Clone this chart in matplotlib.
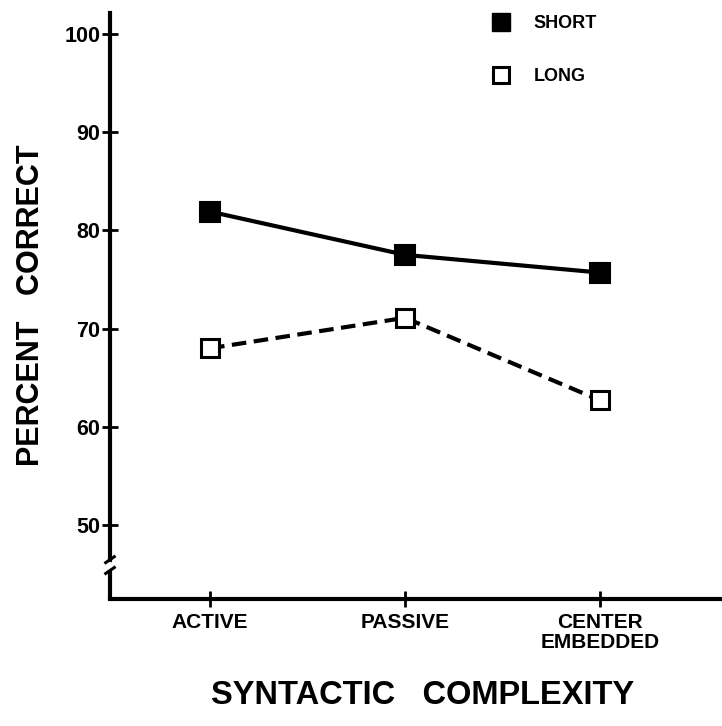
import matplotlib
matplotlib.use("Agg")
import matplotlib.pyplot as plt
from matplotlib.lines import Line2D

categories = ["ACTIVE", "PASSIVE", "CENTER\nEMBEDDED"]
short_vals = [81.9, 77.5, 75.7]
long_vals = [68.0, 71.1, 62.7]
yticks = [50, 60, 70, 80, 90, 100]

plt.rcParams["font.family"] = ["Liberation Sans", "DejaVu Sans"]
plt.rcParams["font.weight"] = "bold"

fig = plt.figure(figsize=(7.22, 7.26), dpi=100)
ax = fig.add_axes([110 / 722, 1 - 599 / 726, 612 / 722, 586 / 726])

x = list(range(len(categories)))
ax.plot(x, short_vals, "-", color="black", lw=3, marker="s", ms=14,
        mfc="black", mec="black", mew=1.5, label="SHORT")
ax.plot(x, long_vals, "--", color="black", lw=3, dashes=(3.5, 1.8),
        marker="s", ms=13, mfc="white", mec="black", mew=2.2, label="LONG")

ymin, ymax = 42.5, 102.1
ax.set_xlim(-0.513, 2.625)
ax.set_ylim(ymin, ymax)

ax.set_xticks(x)
ax.set_xticklabels(categories, fontsize=15, fontweight="bold", linespacing=1.1)
ax.set_yticks(yticks)
ax.set_yticklabels([str(v) for v in yticks], fontsize=15.5, fontweight="bold")
ax.tick_params(axis="both", direction="inout", length=12, width=2, color="black")
ax.tick_params(axis="y", pad=1)
ax.tick_params(axis="x", pad=4)

for s in ["top", "right"]:
    ax.spines[s].set_visible(False)
for s in ["left", "bottom"]:
    ax.spines[s].set_linewidth(3)

# axis break on the y axis
brk_lo, brk_hi = 45.4, 46.5
ax.spines["left"].set_bounds(brk_hi, ymax)
x0 = ax.get_xlim()[0]
ax.plot([x0, x0], [ymin, brk_lo], color="black", lw=3, clip_on=False,
        solid_capstyle="butt")
dx = 0.022
for yb in (brk_lo, brk_hi):
    ax.plot([x0 - dx, x0 + dx], [yb - 0.3, yb + 0.3], color="black", lw=2.2,
            clip_on=False)

handles = [
    Line2D([], [], ls="none", marker="s", ms=13, mfc="black", mec="black"),
    Line2D([], [], ls="none", marker="s", ms=12, mfc="white", mec="black", mew=2.2),
]
ax.legend(handles, ["SHORT", "LONG"], loc="upper left",
          bbox_to_anchor=(476 / 722, 1 + 1 / 726), bbox_transform=fig.transFigure,
          frameon=False, handlelength=1.0, handletextpad=1.3, labelspacing=2.0,
          prop={"size": 13, "weight": "bold"})

fig.text(423 / 722, 1 - 695 / 726, "SYNTACTIC   COMPLEXITY", ha="center",
         va="center", fontsize=23.5, fontweight="bold")
fig.text(31 / 722, 1 - 305 / 726, "PERCENT   CORRECT", ha="center",
         va="center", rotation=90, fontsize=22, fontweight="bold")

fig.savefig("out.png", dpi=100)
